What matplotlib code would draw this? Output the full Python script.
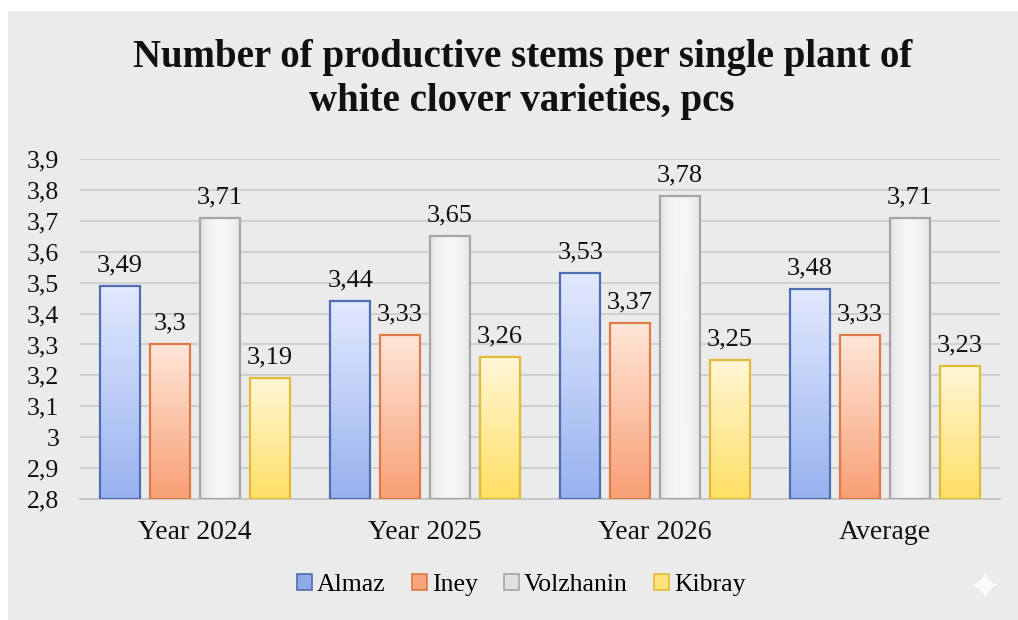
import numpy as np
import matplotlib.pyplot as plt
from matplotlib.patches import Rectangle
from matplotlib.colors import LinearSegmentedColormap

categories = ['Year 2024', 'Year 2025', 'Year 2026', 'Average']
varieties = ['Almaz', 'Iney', 'Volzhanin', 'Kibray']
almaz = [3.49, 3.44, 3.53, 3.48]
iney = [3.30, 3.33, 3.37, 3.33]
volzhanin = [3.71, 3.65, 3.78, 3.71]
kibray = [3.19, 3.26, 3.25, 3.23]
labels = [['3,49', '3,44', '3,53', '3,48'],
          ['3,3', '3,33', '3,37', '3,33'],
          ['3,71', '3,65', '3,78', '3,71'],
          ['3,19', '3,26', '3,25', '3,23']]
series = [almaz, iney, volzhanin, kibray]

# (top colour, bottom colour, edge colour, legend colour)
styles = [
    ('#e2e9ff', '#98b2ef', '#4f6fb0', '#8eaae8'),
    ('#ffe6d8', '#f8a076', '#de7a48', '#f7a47c'),
    ('#f7f7f7', '#dadada', '#a6a6a6', '#e0e0e0'),
    ('#fff6d6', '#ffe066', '#e2bb36', '#ffe27a'),
]

plt.rcParams['font.family'] = ['Liberation Serif', 'DejaVu Serif']

fig = plt.figure(figsize=(10.18, 6.2), dpi=100)
fig.patch.set_facecolor('white')
fig.patches.append(Rectangle((8 / 1018, 0), 1, 1 - 11 / 620, transform=fig.transFigure,
                             facecolor='#ebebeb', edgecolor='none', zorder=-10))

ax = fig.add_axes([80 / 1018, 1 - 499 / 620, 920 / 1018, 340 / 620])
ax.set_facecolor('none')

x = np.arange(len(categories))
step = 0.217
width = 0.174
ax.set_ylim(2.8, 3.9)
ax.set_xlim(-0.5, 3.5)

for i, (vals, st) in enumerate(zip(series, styles)):
    pos = x + (i - 1.5) * step
    bars = ax.bar(pos, np.array(vals) - 2.8, width, bottom=2.8, facecolor='none',
                  edgecolor=st[2], linewidth=1.6, zorder=4)
    cmap = LinearSegmentedColormap.from_list('g%d' % i, [st[1], st[0]])
    for b, v, lab in zip(bars, vals, labels[i]):
        x0 = b.get_x()
        if i == 2:
            # grey bars are shaded across their width
            grad = np.abs(np.linspace(-1, 1, 64))[None, :]
            grad = 1 - 0.7 * grad ** 2
        else:
            grad = np.linspace(0, 1, 64)[:, None]
        im = ax.imshow(grad, cmap=cmap, aspect='auto', origin='lower',
                       extent=(x0, x0 + width, 2.8, v), zorder=3, vmin=0, vmax=1)
        im.set_clip_path(b)
        ax.annotate(lab, (b.get_x() + width / 2, v), xytext=(0, 7),
                    textcoords='offset points', ha='center', va='bottom',
                    fontsize=19, color='#111111')

ax.set_xlim(-0.5, 3.5)
ax.set_ylim(2.8, 3.9)
ax.set_yticks(np.round(np.arange(2.8, 3.91, 0.1), 1))
ax.set_yticklabels([('%g' % t).replace('.', ',') for t in np.round(np.arange(2.8, 3.91, 0.1), 1)])
ax.set_xticks(x)
ax.set_xticklabels(categories)
ax.tick_params(axis='both', length=0, colors='#111111')
ax.tick_params(axis='x', pad=15, labelsize=20)
ax.tick_params(axis='y', pad=15, labelsize=18.5)
ax.yaxis.grid(True, color='#cbcbcb', linewidth=1.2)
ax.set_axisbelow(True)
for s in ['top', 'right', 'left']:
    ax.spines[s].set_visible(False)
ax.spines['bottom'].set_color('#c4c4c4')
ax.spines['bottom'].set_linewidth(1.2)

fig.text(0.513, 1 - 80 / 620, 'Number of productive stems per single plant of\nwhite clover varieties, pcs',
         ha='center', va='center', fontsize=28, fontweight='bold', linespacing=1.25, color='#111111')

handles = [Rectangle((0, 0), 1, 1, facecolor=st[3], edgecolor=st[2], linewidth=1.2) for st in styles]
fig.legend(handles, varieties, loc='center', bbox_to_anchor=(0.512, 1 - 585 / 620), ncol=4,
           frameon=False, fontsize=18.5, handlelength=0.6, handleheight=0.6,
           handletextpad=0.2, columnspacing=1.0)

# small four-point star in the corner
t = np.linspace(0, 2 * np.pi, 200)
r = 14
sx = 985 + r * np.sign(np.cos(t)) * np.abs(np.cos(t)) ** 3
sy = 620 - 585 + r * np.sign(np.sin(t)) * np.abs(np.sin(t)) ** 3
fig.patches.append(plt.Polygon(np.column_stack([sx / 1018, sy / 620]), closed=True,
                               transform=fig.transFigure, facecolor='#fafafa', edgecolor='none'))

fig.savefig('out.png', dpi=100)
